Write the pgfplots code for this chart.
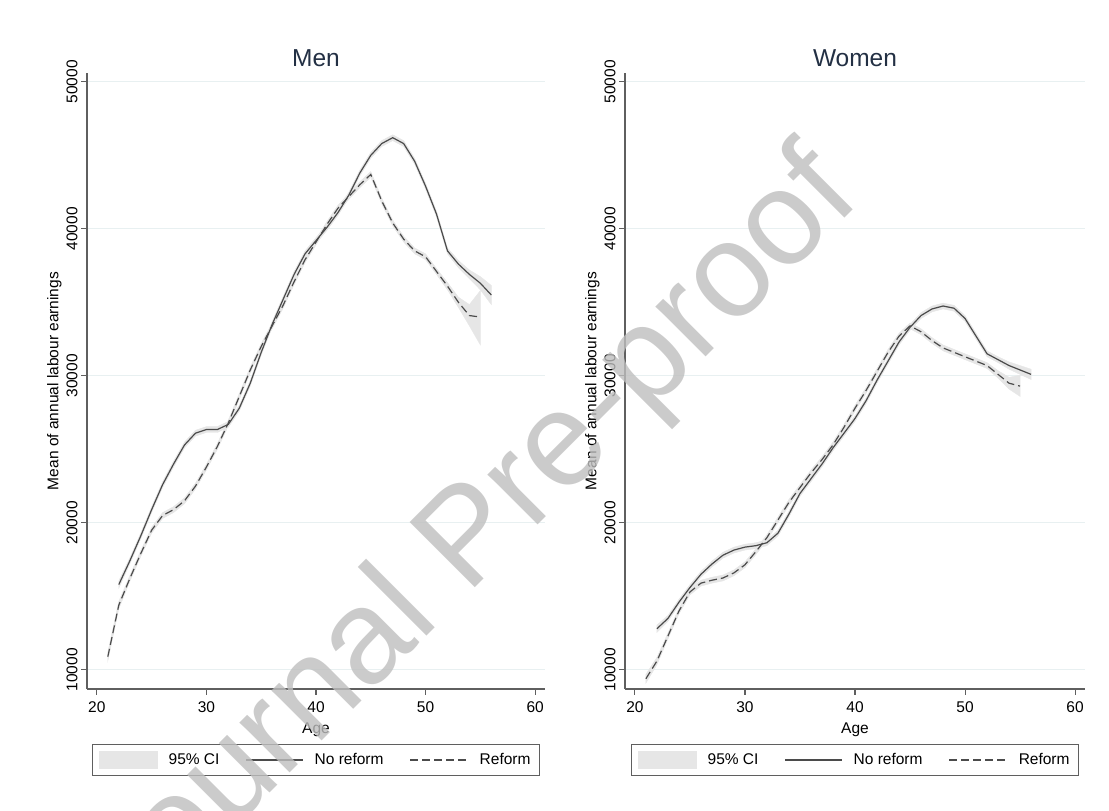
\documentclass[border=0pt]{standalone}
\usepackage{fontspec}
\setmainfont{Liberation Sans}
\usepackage{pgfplots}
\pgfplotsset{compat=1.18}
\usepackage{pgfplotstable}
\usepgfplotslibrary{fillbetween}
\definecolor{gridc}{RGB}{232,240,241}
\definecolor{axc}{RGB}{95,95,95}
\definecolor{linec}{RGB}{75,75,75}
\definecolor{cifill}{RGB}{230,230,230}
\definecolor{titlec}{RGB}{35,48,68}
\definecolor{wm}{RGB}{190,190,190}

\pgfplotstableread{
age m lo hi
22 15800 15550 16050
23 17400 17200 17600
24 19100 18900 19300
25 20900 20700 21100
26 22600 22400 22800
27 24000 23800 24200
28 25300 25100 25500
29 26100 25900 26300
30 26350 26150 26550
31 26350 26150 26550
32 26700 26500 26900
33 27800 27600 28000
34 29500 29300 29700
35 31600 31400 31800
36 33500 33300 33700
37 35200 35000 35400
38 36900 36700 37100
39 38300 38100 38500
40 39200 39000 39400
41 40100 39900 40300
42 41100 40900 41300
43 42300 42100 42500
44 43800 43600 44000
45 45000 44800 45200
46 45800 45600 46000
47 46200 46000 46400
48 45800 45600 46000
49 44600 44400 44800
50 42900 42700 43100
51 41000 40800 41200
52 38500 38300 38700
53 37600 37350 37850
54 36900 36600 37200
55 36300 35850 36750
56 35500 34850 36150
}\mennr

\pgfplotstableread{
age m lo hi
21 10900 10600 11200
22 14400 14150 14650
23 16200 16000 16400
24 17900 17700 18100
25 19500 19300 19700
26 20500 20300 20700
27 20900 20700 21100
28 21500 21300 21700
29 22500 22300 22700
30 23800 23600 24000
31 25200 25000 25400
32 26800 26600 27000
33 28600 28400 28800
34 30400 30200 30600
35 32000 31800 32200
36 33400 33200 33600
37 34800 34600 35000
38 36400 36200 36600
39 37900 37700 38100
40 39100 38900 39300
41 40300 40100 40500
42 41400 41200 41600
43 42200 42000 42400
44 43000 42800 43200
45 43700 43500 43900
46 41900 41700 42100
47 40400 40200 40600
48 39300 39100 39500
49 38500 38300 38700
50 38100 37900 38300
51 37100 36900 37300
52 36100 35850 36350
53 35000 34650 35350
54 34100 33400 34850
55 34000 32100 35800
}\menr

\pgfplotstableread{
age m lo hi
22 12800 12550 13050
23 13500 13300 13700
24 14600 14400 14800
25 15600 15400 15800
26 16500 16300 16700
27 17200 17000 17400
28 17800 17600 18000
29 18150 17950 18350
30 18350 18150 18550
31 18450 18250 18650
32 18650 18450 18850
33 19300 19100 19500
34 20600 20400 20800
35 22000 21800 22200
36 23000 22800 23200
37 24000 23800 24200
38 25100 24900 25300
39 26100 25900 26300
40 27100 26900 27300
41 28300 28100 28500
42 29700 29500 29900
43 31000 30800 31200
44 32300 32100 32500
45 33300 33100 33500
46 34100 33900 34300
47 34550 34350 34750
48 34750 34550 34950
49 34600 34400 34800
50 33900 33700 34100
51 32700 32500 32900
52 31500 31300 31700
53 31100 30900 31300
54 30700 30450 30950
55 30400 30100 30700
56 30100 29750 30450
}\womnr

\pgfplotstableread{
age m lo hi
21 9400 9100 9700
22 10600 10350 10850
23 12300 12100 12500
24 14000 13800 14200
25 15300 15100 15500
26 15900 15700 16100
27 16100 15900 16300
28 16250 16050 16450
29 16600 16400 16800
30 17150 16950 17350
31 18050 17850 18250
32 19000 18800 19200
33 20200 20000 20400
34 21400 21200 21600
35 22400 22200 22600
36 23400 23200 23600
37 24300 24100 24500
38 25300 25100 25500
39 26500 26300 26700
40 27800 27600 28000
41 29000 28800 29200
42 30300 30100 30500
43 31600 31400 31800
44 32700 32500 32900
45 33400 33200 33600
46 33000 32800 33200
47 32400 32200 32600
48 31900 31700 32100
49 31600 31400 31800
50 31300 31100 31500
51 31000 30800 31200
52 30700 30500 30900
53 30100 29850 30350
54 29500 29100 29900
55 29300 28600 30050
}\womr

\tikzset{
  nrline/.style={draw=linec, line width=1.2bp},
  rline/.style={draw=linec, line width=1.2bp, dash pattern=on 8bp off 4bp},
}

\pgfplotsset{
  panel/.style={
    scale only axis, height=616bp,
    xmin=19.1, xmax=60.9, ymin=8700, ymax=50600,
    axis x line=bottom, axis y line=left,
    axis line style={-, draw=axc, line width=1.1bp},
    xtick={20,30,40,50,60}, ytick={10000,20000,30000,40000,50000},
    tick align=outside, major tick length=6bp,
    tick style={draw=axc, line width=1.1bp},
    ymajorgrids, grid style={draw=gridc, line width=1bp},
    scaled y ticks=false,
    yticklabel style={/pgf/number format/1000 sep={}, rotate=90, anchor=south},
    xticklabel style={yshift=-3bp},
    /pgf/number format/assume math mode=true,
    tick label style={font=\fontsize{15.5bp}{18bp}\selectfont, text=black},
    label style={font=\fontsize{15.5bp}{18bp}\selectfont, text=black},
    xlabel=Age, ylabel=Mean of annual labour earnings,
    xlabel style={at={(axis description cs:0.5,-0.066)}, anchor=center},
    ylabel style={at={(axis description cs:-0.071,0.5)}, anchor=center},
    title style={at={(axis description cs:0.5,1.015)}, anchor=center,
      font=\fontsize{24.5bp}{28bp}\selectfont, text=titlec},
    legend style={at={(axis description cs:0.5,-0.1153)}, anchor=center,
      legend columns=3, draw=axc, line width=1.2bp, inner xsep=7bp, inner ysep=6.5bp,
      font=\fontsize{15.5bp}{18bp}\selectfont,
      /tikz/every odd column/.append style={column sep=9bp},
      /tikz/every even column/.append style={column sep=24bp}},
    legend cell align=left,
  },
}

\begin{document}
\begin{tikzpicture}
% ---------- Men ----------
\begin{axis}[panel, width=458bp, at={(87bp,122bp)}, anchor=south west, title=Men]
\addlegendimage{legend image code/.code={\fill[cifill] (0bp,-8.5bp) rectangle (57bp,8.5bp);}}
\addlegendentry{95\% CI}
\addlegendimage{legend image code/.code={\draw[nrline] (0bp,0bp) -- (57bp,0bp);}}
\addlegendentry{No reform}
\addlegendimage{legend image code/.code={\draw[rline] (0bp,0bp) -- (58bp,0bp);}}
\addlegendentry{Reform}

\addplot[name path=anrlo, draw=none, forget plot] table[x=age,y=lo]{\mennr};
\addplot[name path=anrhi, draw=none, forget plot] table[x=age,y=hi]{\mennr};
\addplot[fill=cifill, draw=cifill, forget plot] fill between[of=anrlo and anrhi];
\addplot[name path=arlo, draw=none, forget plot] table[x=age,y=lo]{\menr};
\addplot[name path=arhi, draw=none, forget plot] table[x=age,y=hi]{\menr};
\addplot[fill=cifill, draw=cifill, forget plot] fill between[of=arlo and arhi];
\addplot[nrline, forget plot] table[x=age,y=m]{\mennr};
\addplot[rline, forget plot] table[x=age,y=m]{\menr};
\end{axis}

% ---------- Women ----------
\begin{axis}[panel, width=460bp, at={(625bp,122bp)}, anchor=south west, title=Women]
\addlegendimage{legend image code/.code={\fill[cifill] (0bp,-8.5bp) rectangle (57bp,8.5bp);}}
\addlegendentry{95\% CI}
\addlegendimage{legend image code/.code={\draw[nrline] (0bp,0bp) -- (57bp,0bp);}}
\addlegendentry{No reform}
\addlegendimage{legend image code/.code={\draw[rline] (0bp,0bp) -- (58bp,0bp);}}
\addlegendentry{Reform}

\addplot[name path=bnrlo, draw=none, forget plot] table[x=age,y=lo]{\womnr};
\addplot[name path=bnrhi, draw=none, forget plot] table[x=age,y=hi]{\womnr};
\addplot[fill=cifill, draw=cifill, forget plot] fill between[of=bnrlo and bnrhi];
\addplot[name path=brlo, draw=none, forget plot] table[x=age,y=lo]{\womr};
\addplot[name path=brhi, draw=none, forget plot] table[x=age,y=hi]{\womr};
\addplot[fill=cifill, draw=cifill, forget plot] fill between[of=brlo and brhi];
\addplot[nrline, forget plot] table[x=age,y=m]{\womnr};
\addplot[rline, forget plot] table[x=age,y=m]{\womr};
\end{axis}

% watermark
\node[rotate=45, anchor=base, text=wm, opacity=0.8,
      font=\fontsize{134bp}{136bp}\selectfont] at (497bp,245bp) {Journal Pre-proof};

\pgfresetboundingbox
\path[use as bounding box] (0,0) rectangle (1109bp,811bp);
\end{tikzpicture}
\end{document}
